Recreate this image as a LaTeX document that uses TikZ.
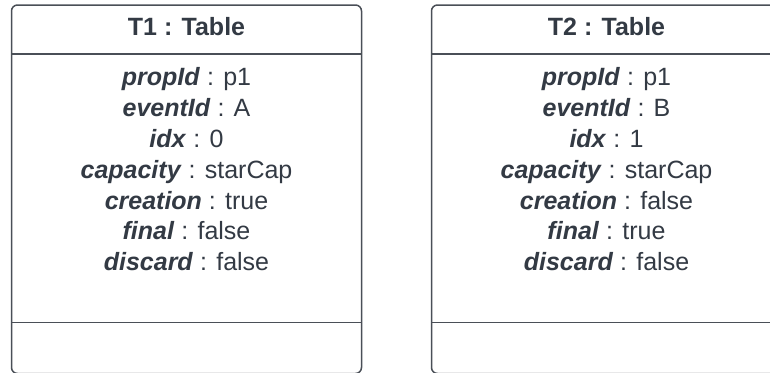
\documentclass[tikz,border=0pt]{standalone}
\usepackage{fontspec}
\setmainfont{Liberation Sans}
\definecolor{inkText}{HTML}{333A44}
\definecolor{inkLine}{HTML}{4A4F57}
\tikzset{
  frame/.style={draw=inkLine, line width=1.5pt, rounded corners=6pt, fill=white},
  divider/.style={draw=inkLine, line width=1.5pt},
  title/.style={anchor=base, inner sep=0pt, text=inkText, font=\fontsize{25}{30}\selectfont\bfseries},
  attr/.style={anchor=base, inner sep=0pt, text=inkText, font=\fontsize{25}{30}\selectfont},
}
\newcommand{\attrname}[1]{\textbf{\textit{#1}}}
\begin{document}
\begin{tikzpicture}[x=1pt, y=-1pt]
  \useasboundingbox (0,0) rectangle (770,372);
  \clip (0,0) rectangle (770,372);

  % object boxes: outline, header divider and footer divider
  \foreach \l/\n in {11.5/one, 431.5/two} {
    \draw[frame] (\l,5) rectangle (\l+350,373.5);
    \draw[divider] (\l,54) -- (\l+350,54);
    \draw[divider] (\l,322.7) -- (\l+350,322.7);
  }

  % T1
  \node[title] (t1title) at (186.5,35.5) {T1 : Table};
  \node[attr] (t1a) at (186.5,85.8)  {\attrname{propId} : p1};
  \node[attr] (t1b) at (186.5,116.6) {\attrname{eventId} : A};
  \node[attr] (t1c) at (186.5,147.4) {\attrname{idx} : 0};
  \node[attr] (t1d) at (186.5,178.2) {\attrname{capacity} : starCap};
  \node[attr] (t1e) at (186.5,209.0) {\attrname{creation} : true};
  \node[attr] (t1f) at (186.5,239.8) {\attrname{final} : false};
  \node[attr] (t1g) at (186.5,270.6) {\attrname{discard} : false};

  % T2
  \node[title] (t2title) at (606.5,35.5) {T2 : Table};
  \node[attr] (t2a) at (606.5,85.8)  {\attrname{propId} : p1};
  \node[attr] (t2b) at (606.5,116.6) {\attrname{eventId} : B};
  \node[attr] (t2c) at (606.5,147.4) {\attrname{idx} : 1};
  \node[attr] (t2d) at (606.5,178.2) {\attrname{capacity} : starCap};
  \node[attr] (t2e) at (606.5,209.0) {\attrname{creation} : false};
  \node[attr] (t2f) at (606.5,239.8) {\attrname{final} : true};
  \node[attr] (t2g) at (606.5,270.6) {\attrname{discard} : false};
\end{tikzpicture}
\end{document}
